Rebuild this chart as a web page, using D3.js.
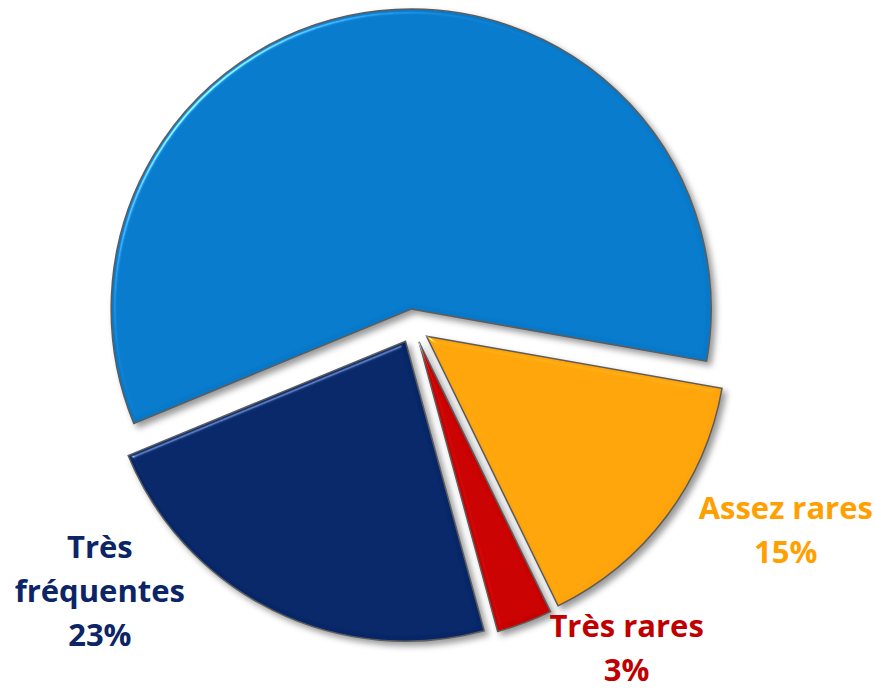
<!DOCTYPE html>
<html>
<head>
  <meta charset="utf-8">
  <title>Fréquence</title>
  <script src="https://d3js.org/d3.v7.min.js"></script>
  <style>
    body { margin: 0; background: #fff; }
    .lbl { font-family: "Open Sans", sans-serif; font-weight: 700; font-size: 31px; }
  </style>
</head>
<body>
  <svg id="chart" width="875" height="694"></svg>
  <script>
    // data, clockwise from the 100 degree mark
    const categories = ["Assez rares", "Très rares", "Très fréquentes", "Assez fréquentes"];
    const values = [15, 3, 23, 59];
    const labelLines = [["Assez rares", "15%"], ["Très rares", "3%"], ["Très", "fréquentes", "23%"], null];
    const colors = ["#FFA30A", "#C80000", "#072668", "#0779CA"];
    const textColors = ["#FFA000", "#C00000", "#0B2566", "#0779CA"];

    const svg = d3.select("#chart");
    const cx = 413, cy = 326, radius = 300, explode = 17;

    // bevel + drop shadow
    const defs = svg.append("defs");
    const f = defs.append("filter").attr("id", "bevel")
      .attr("color-interpolation-filters", "sRGB")
      .attr("x", "-10%").attr("y", "-10%").attr("width", "130%").attr("height", "130%");
    f.append("feGaussianBlur").attr("in", "SourceAlpha").attr("stdDeviation", 2.5).attr("result", "blur");
    const spec = f.append("feSpecularLighting").attr("in", "blur").attr("surfaceScale", 4)
      .attr("specularConstant", 0.9).attr("specularExponent", 40)
      .attr("lighting-color", "#ffffff").attr("result", "spec");
    spec.append("feDistantLight").attr("azimuth", 225).attr("elevation", 40);
    f.append("feComposite").attr("in", "spec").attr("in2", "SourceAlpha").attr("operator", "in").attr("result", "specIn");
    f.append("feComposite").attr("in", "SourceGraphic").attr("in2", "specIn").attr("operator", "arithmetic")
      .attr("k1", 0).attr("k2", 1).attr("k3", 0.65).attr("k4", 0).attr("result", "lit");
    f.append("feGaussianBlur").attr("in", "SourceAlpha").attr("stdDeviation", 3).attr("result", "sblur");
    f.append("feOffset").attr("in", "sblur").attr("dx", 4).attr("dy", 4).attr("result", "soff");
    f.append("feFlood").attr("flood-color", "#000").attr("flood-opacity", 0.4).attr("result", "flood");
    f.append("feComposite").attr("in", "flood").attr("in2", "soff").attr("operator", "in").attr("result", "shadow");
    const merge = f.append("feMerge");
    merge.append("feMergeNode").attr("in", "shadow");
    merge.append("feMergeNode").attr("in", "lit");

    const rows = categories.map((c, i) => ({ cat: c, value: values[i], lines: labelLines[i], i: i }));

    const pie = d3.pie().sort(null).value(d => d.value)
      .startAngle(100 * Math.PI / 180).endAngle(460 * Math.PI / 180);
    const arc = d3.arc().innerRadius(0).outerRadius(radius);
    const arcs = pie(rows);

    const g = svg.append("g").attr("transform", `translate(${cx},${cy})`);

    g.selectAll("path.slice")
      .data(arcs)
      .enter()
      .append("path")
      .attr("class", "slice")
      .attr("transform", d => {
        const a = (d.startAngle + d.endAngle) / 2;
        return `translate(${explode * Math.sin(a)},${-explode * Math.cos(a)})`;
      })
      .attr("d", arc)
      .attr("fill", d => colors[d.data.i])
      .attr("stroke", "#5c5c5c")
      .attr("stroke-width", 1.5)
      .attr("stroke-linejoin", "miter")
      .attr("filter", "url(#bevel)");

    // label placement: polar (degrees clockwise from top, distance from centre)
    const labelPolar = { "Assez rares": [118.7, 425], "Très rares": [146.4, 386], "Très fréquentes": [229.8, 410] };
    const lineGap = 44;

    arcs.filter(d => d.data.lines).forEach(d => {
      const p = labelPolar[d.data.cat];
      const a = p[0] * Math.PI / 180;
      const x = p[1] * Math.sin(a), y = -p[1] * Math.cos(a);
      const n = d.data.lines.length;
      const t = g.append("text").attr("class", "lbl")
        .attr("text-anchor", "middle")
        .attr("fill", textColors[d.data.i]);
      d.data.lines.forEach((line, k) => {
        t.append("tspan")
          .attr("x", x)
          .attr("y", y + (k - (n - 1) / 2) * lineGap + 11)
          .text(line);
      });
    });
  </script>
</body>
</html>
